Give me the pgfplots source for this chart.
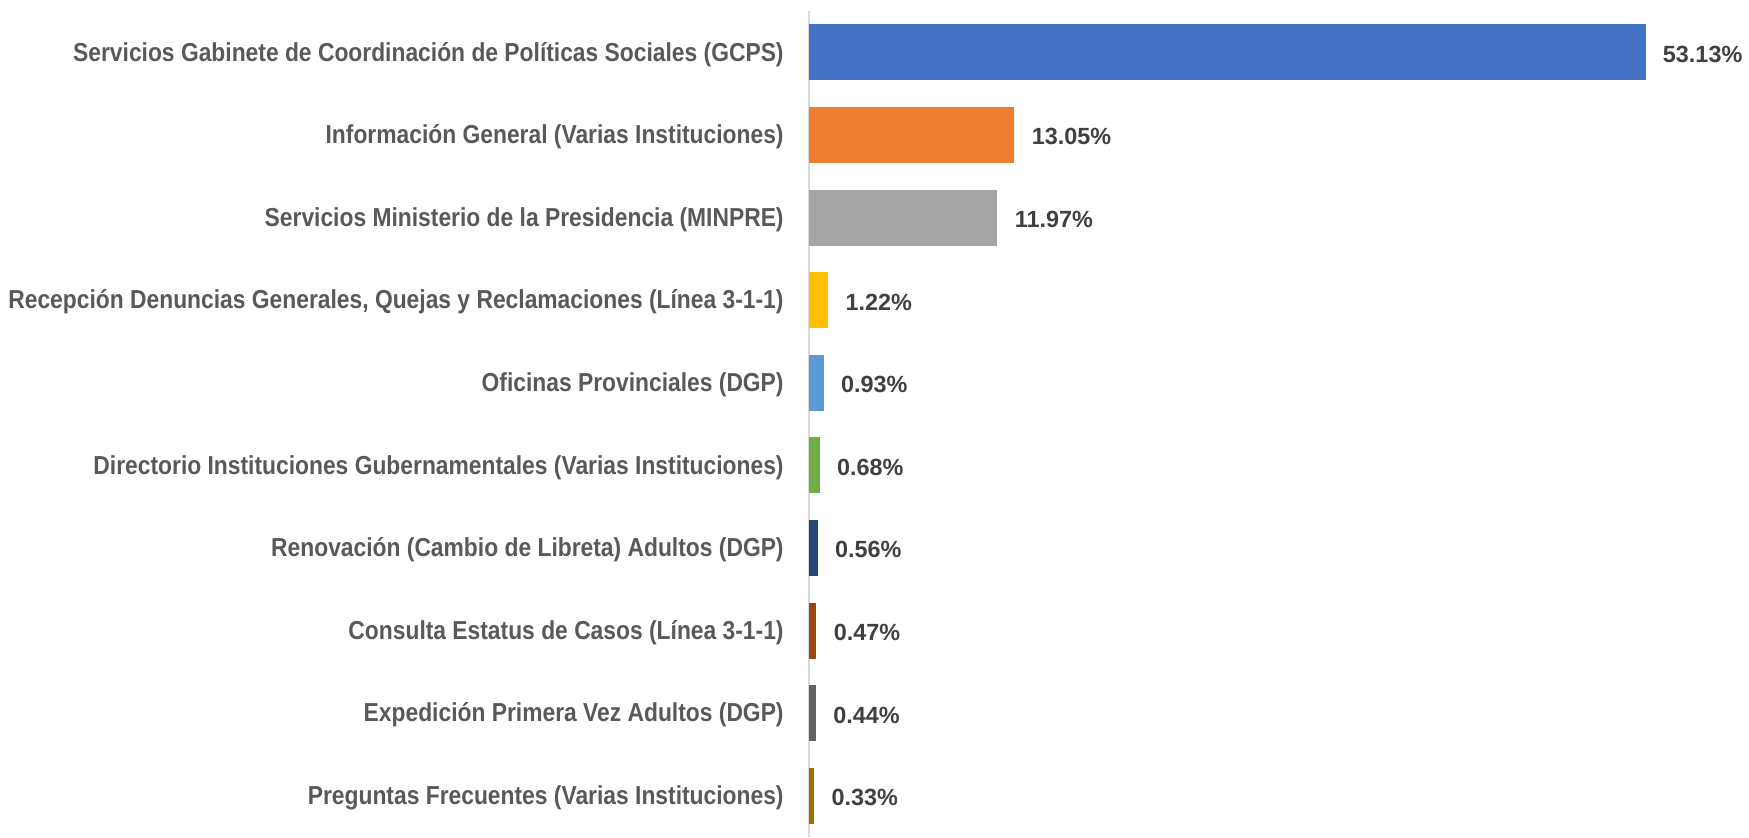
\documentclass[border=0pt]{standalone}
\usepackage{fontspec}
\setmainfont{Liberation Sans}
\newfontfamily\catfont{Liberation Sans}[FakeStretch=0.878]
\usepackage{pgfplots}
\pgfplotsset{compat=1.18}
\definecolor{labgray}{HTML}{595959}
\definecolor{valgray}{HTML}{404040}
\definecolor{axgray}{HTML}{D9D9D9}
\definecolor{c1}{HTML}{4472C4}
\definecolor{c2}{HTML}{ED7D31}
\definecolor{c3}{HTML}{A5A5A5}
\definecolor{c4}{HTML}{FFC000}
\definecolor{c5}{HTML}{5B9BD5}
\definecolor{c6}{HTML}{70AD47}
\definecolor{c7}{HTML}{264478}
\definecolor{c8}{HTML}{9E480E}
\definecolor{c9}{HTML}{636363}
\definecolor{c10}{HTML}{997300}
\begin{document}
\begin{tikzpicture}
\begin{axis}[
  at={(0,0)}, anchor=south west,
  scale only axis,
  width=470pt, height=413pt,
  xbar, bar width=28pt, bar shift=0pt,
  xmin=0, xmax=59.7,
  ymin=-0.5, ymax=9.5, y dir=reverse,
  axis x line=none,
  axis y line*=left,
  y axis line style={axgray, line width=0.9pt, -},
  ytick={0,...,9},
  major tick length=0pt,
  yticklabels={
    Servicios Gabinete de Coordinación de Políticas Sociales (GCPS),
    Información General (Varias Instituciones),
    Servicios Ministerio de la Presidencia (MINPRE),
    {Recepción Denuncias Generales, Quejas y Reclamaciones (Línea 3-1-1)},
    Oficinas Provinciales (DGP),
    Directorio Instituciones Gubernamentales (Varias Instituciones),
    Renovación (Cambio de Libreta) Adultos (DGP),
    Consulta Estatus de Casos (Línea 3-1-1),
    Expedición Primera Vez Adultos (DGP),
    Preguntas Frecuentes (Varias Instituciones)},
  yticklabel style={font=\catfont\bfseries\fontsize{13}{15}\selectfont, text=labgray, inner sep=0pt, xshift=-12.5pt, yshift=-1pt},
  nodes near coords={\pgfmathprintnumber[fixed,fixed zerofill,precision=2,assume math mode=true]{\pgfplotspointmeta}\%},
  point meta=x,
  nodes near coords style={font=\bfseries\fontsize{11.7}{14}\selectfont, text=valgray, anchor=west, inner sep=0pt, xshift=8.5pt, yshift=-1pt},
  clip=false,
]
\addplot[fill=c1, draw=none] coordinates {(53.13,0)};
\addplot[fill=c2, draw=none] coordinates {(13.05,1)};
\addplot[fill=c3, draw=none] coordinates {(11.97,2)};
\addplot[fill=c4, draw=none] coordinates {(1.22,3)};
\addplot[fill=c5, draw=none] coordinates {(0.93,4)};
\addplot[fill=c6, draw=none] coordinates {(0.68,5)};
\addplot[fill=c7, draw=none] coordinates {(0.56,6)};
\addplot[fill=c8, draw=none] coordinates {(0.47,7)};
\addplot[fill=c9, draw=none] coordinates {(0.44,8)};
\addplot[fill=c10, draw=none] coordinates {(0.33,9)};
\end{axis}
\pgfresetboundingbox
\path[use as bounding box] (-404.5pt,0) rectangle (470pt,418.5pt);
\end{tikzpicture}
\end{document}
